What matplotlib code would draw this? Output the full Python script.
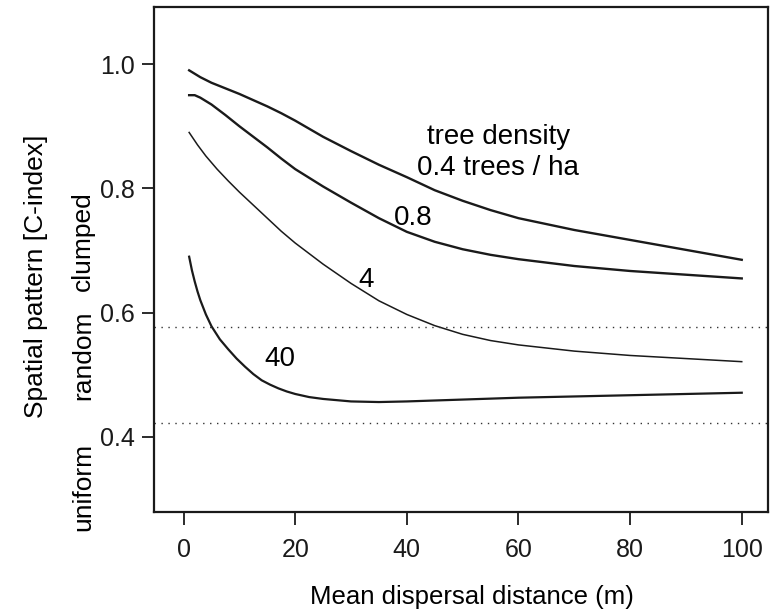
import matplotlib
matplotlib.use('Agg')
import matplotlib.pyplot as plt

plt.rcParams['font.family'] = ['Liberation Sans', 'DejaVu Sans']

# C-index vs mean dispersal distance, one curve per tree density
dist_04 = [1, 3, 5, 7.5, 10, 12.5, 15, 17.5, 20, 22.5, 25, 30, 35, 40, 45, 50, 55, 60, 70, 80, 90, 100]
cidx_04 = [0.990, 0.979, 0.970, 0.961, 0.952, 0.942, 0.932, 0.921, 0.909, 0.896, 0.883, 0.860, 0.838, 0.818, 0.797, 0.780, 0.765, 0.752, 0.733, 0.717, 0.701, 0.685]

dist_08 = [1, 2, 3, 5, 7.5, 10, 12.5, 15, 17.5, 20, 25, 30, 35, 40, 45, 50, 55, 60, 70, 80, 90, 100]
cidx_08 = [0.950, 0.950, 0.946, 0.935, 0.918, 0.900, 0.883, 0.866, 0.848, 0.831, 0.803, 0.777, 0.752, 0.730, 0.714, 0.702, 0.693, 0.686, 0.675, 0.667, 0.661, 0.655]

dist_4 = [1, 2.5, 4, 6, 8, 10, 12.5, 15, 17.5, 20, 25, 30, 35, 40, 45, 50, 55, 60, 70, 80, 90, 100]
cidx_4 = [0.890, 0.870, 0.852, 0.831, 0.812, 0.794, 0.773, 0.752, 0.731, 0.712, 0.678, 0.647, 0.619, 0.597, 0.579, 0.565, 0.555, 0.548, 0.538, 0.531, 0.526, 0.521]

dist_40 = [1, 1.5, 2, 2.5, 3, 4, 5, 6.5, 8, 9.5, 11, 12.5, 14, 15.5, 17, 18.5, 20, 22.5, 25, 30, 35, 40, 50, 60, 70, 80, 90, 100]
cidx_40 = [0.690, 0.668, 0.650, 0.634, 0.620, 0.597, 0.578, 0.557, 0.541, 0.526, 0.513, 0.501, 0.491, 0.484, 0.478, 0.473, 0.469, 0.464, 0.461, 0.457, 0.456, 0.457, 0.460, 0.463, 0.465, 0.467, 0.469, 0.471]

# bounds of the "random" band
rand_low = 0.423
rand_high = 0.577

fig = plt.figure(figsize=(7.73, 6.12), dpi=100)
ax = fig.add_axes([0.1992, 0.1634, 0.7943, 0.8252])

ax.plot(dist_04, cidx_04, color='#1a1a1a', lw=1.7)
ax.plot(dist_08, cidx_08, color='#1a1a1a', lw=1.7)
ax.plot(dist_4, cidx_4, color='#1a1a1a', lw=1.1)
ax.plot(dist_40, cidx_40, color='#1a1a1a', lw=1.6)

ax.axhline(rand_high, color='#333333', lw=1.0, ls=(0, (1, 4)))
ax.axhline(rand_low, color='#333333', lw=1.0, ls=(0, (1, 4)))

ax.text(56.4, 0.882, 'tree density', ha='center', va='center', fontsize=20)
ax.text(56.4, 0.832, '0.4 trees / ha', ha='center', va='center', fontsize=20)
ax.text(41.1, 0.752, '0.8', ha='center', va='center', fontsize=20)
ax.text(32.7, 0.652, '4', ha='center', va='center', fontsize=20)
ax.text(17.3, 0.525, '40', ha='center', va='center', fontsize=20)

ax.set_xlim(-5.3, 104.7)
ax.set_ylim(0.279, 1.092)
ax.set_xticks([0, 20, 40, 60, 80, 100])
ax.set_yticks([0.4, 0.6, 0.8, 1.0])
ax.set_yticklabels(['0.4', '0.6', '0.8', '1.0'])
ax.tick_params(direction='out', length=9, width=1.3, labelsize=18, colors='#1a1a1a')
ax.tick_params(axis='x', pad=10)
ax.tick_params(axis='y', pad=5)
for s in ax.spines.values():
    s.set_linewidth(1.6)
    s.set_color('#1a1a1a')

fig.text(472 / 773, 1 - 597 / 612, 'Mean dispersal distance (m)', ha='center', va='center', fontsize=18.5)
fig.text(36 / 773, 1 - 276 / 612, 'Spatial pattern [C-index]', ha='center', va='center', rotation=90, fontsize=19)
fig.text(83 / 773, 1 - 241 / 612, 'clumped', ha='center', va='center', rotation=90, fontsize=19)
fig.text(83 / 773, 1 - 355 / 612, 'random', ha='center', va='center', rotation=90, fontsize=19)
fig.text(83 / 773, 1 - 487 / 612, 'uniform', ha='center', va='center', rotation=90, fontsize=19)

fig.savefig('out.png', dpi=100)
